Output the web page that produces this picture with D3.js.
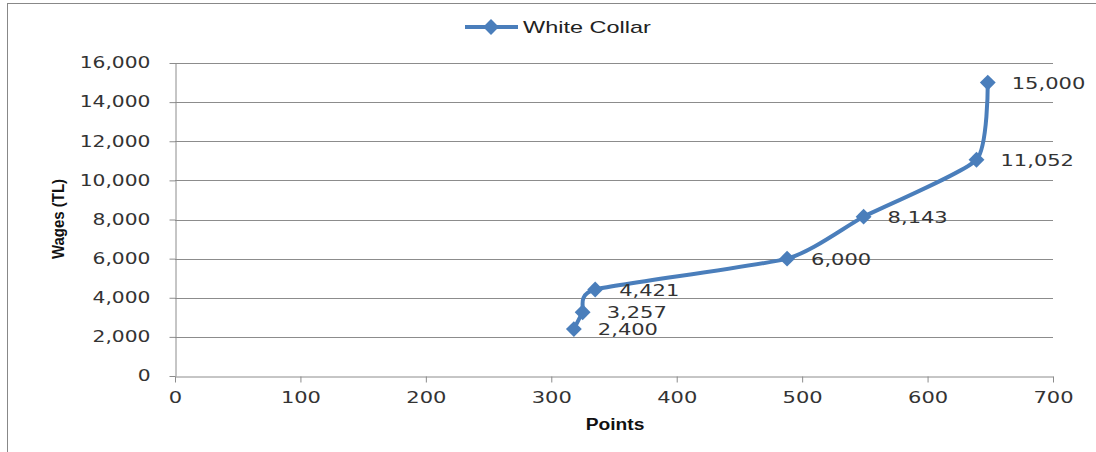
<!DOCTYPE html>
<html>
<head>
<meta charset="utf-8">
<script src="https://cdn.jsdelivr.net/npm/d3@7"></script>
<style>
  body { margin: 0; background: #fff; }
  svg { display: block; }
</style>
</head>
<body>
<svg id="chart" width="1096" height="452"></svg>
<script>
// values
const seriesName = "White Collar";
const points = [318, 325, 335, 488, 549, 639, 648];
const wages = [2400, 3257, 4421, 6000, 8143, 11052, 15000];
const xTicks = [0, 100, 200, 300, 400, 500, 600, 700];
const yTicks = [0, 2000, 4000, 6000, 8000, 10000, 12000, 14000, 16000];

const blue = "#4a7ebb";
const grid = "#8c8c8c";

const svg = d3.select("#chart");

// outer frame
svg.append("rect")
  .attr("x", 7.5).attr("y", 3.5)
  .attr("width", 1100).attr("height", 470)
  .attr("fill", "none").attr("stroke", "#888");

const plotLeft = 175, plotRight = 1053, plotTop = 63, plotBottom = 376;

const x = d3.scaleLinear().domain([0, 700]).range([plotLeft, plotRight]);
const y = d3.scaleLinear().domain([0, 16000]).range([plotBottom, plotTop]);

// widen text like the stretched source
function widen(sel, f) {
  sel.each(function () {
    const w = this.getComputedTextLength();
    d3.select(this).attr("textLength", w * f).attr("lengthAdjust", "spacingAndGlyphs");
  });
}

// grid lines
svg.append("g")
  .selectAll("line")
  .data(yTicks.slice(1))
  .join("line")
  .attr("x1", plotLeft).attr("x2", plotRight)
  .attr("y1", d => Math.round(y(d)) + 0.5).attr("y2", d => Math.round(y(d)) + 0.5)
  .attr("stroke", grid).attr("stroke-width", 1);

// y axis
const yAxis = svg.append("g")
  .attr("transform", "translate(" + (plotLeft + 0.5) + ",0)")
  .call(d3.axisLeft(y).tickValues(yTicks).tickFormat(d3.format(",")).tickSizeInner(6).tickSizeOuter(0).tickPadding(19));
yAxis.select(".domain").attr("stroke", grid);
yAxis.selectAll(".tick line").attr("stroke", grid);
yAxis.selectAll(".tick text")
  .attr("font-family", "DejaVu Sans").attr("font-size", 15).attr("fill", "#333");
yAxis.selectAll(".tick text").call(widen, 1.35);

// x axis
const xAxis = svg.append("g")
  .attr("transform", "translate(0," + (plotBottom + 0.5) + ")")
  .call(d3.axisBottom(x).tickValues(xTicks).tickSizeInner(6).tickSizeOuter(0).tickPadding(10));
xAxis.select(".domain").attr("stroke", grid);
xAxis.selectAll(".tick line").attr("stroke", grid);
xAxis.selectAll(".tick text")
  .attr("font-family", "DejaVu Sans").attr("font-size", 15).attr("fill", "#333");
xAxis.selectAll(".tick text").call(widen, 1.4);

// axis titles
svg.append("text")
  .attr("x", 615).attr("y", 430)
  .attr("text-anchor", "middle")
  .attr("font-family", "Liberation Sans").attr("font-weight", "bold").attr("font-size", 16)
  .attr("fill", "#111")
  .text("Points").call(widen, 1.2);

svg.append("text")
  .attr("transform", "translate(64,219) rotate(-90)")
  .attr("text-anchor", "middle")
  .attr("font-family", "Liberation Sans").attr("font-weight", "bold").attr("font-size", 17)
  .attr("fill", "#111")
  .text("Wages (TL)").call(widen, 0.88);

// series line, smoothed roughly like Excel
const data = points.map((p, i) => ({ p: p, w: wages[i] }));
const line = d3.line()
  .x(d => x(d.p)).y(d => y(d.w))
  .curve(d3.curveCardinal.tension(0.45));

svg.append("path")
  .datum(data)
  .attr("d", line)
  .attr("fill", "none")
  .attr("stroke", blue)
  .attr("stroke-width", 4)
  .attr("stroke-linejoin", "round");

// diamond markers
const diamond = d3.symbol().type(d3.symbolDiamond2).size(160);
svg.append("g")
  .selectAll("path")
  .data(data)
  .join("path")
  .attr("d", diamond)
  .attr("transform", d => "translate(" + x(d.p) + "," + y(d.w) + ")")
  .attr("fill", blue);

// data labels
svg.append("g")
  .selectAll("text")
  .data(data)
  .join("text")
  .attr("x", d => x(d.p) + 24)
  .attr("y", d => y(d.w) + 6)
  .attr("font-family", "DejaVu Sans").attr("font-size", 15).attr("fill", "#333")
  .text(d => d3.format(",")(d.w))
  .call(widen, 1.4);

// legend
const lg = svg.append("g").attr("transform", "translate(465,27)");
lg.append("line")
  .attr("x1", 0).attr("x2", 53).attr("y1", 0).attr("y2", 0)
  .attr("stroke", blue).attr("stroke-width", 4);
lg.append("path")
  .attr("d", diamond)
  .attr("transform", "translate(26,0)")
  .attr("fill", blue);
lg.append("text")
  .attr("x", 58).attr("y", 6)
  .attr("font-family", "Liberation Sans").attr("font-size", 17).attr("fill", "#222")
  .text(seriesName).call(widen, 1.38);
</script>
</body>
</html>
